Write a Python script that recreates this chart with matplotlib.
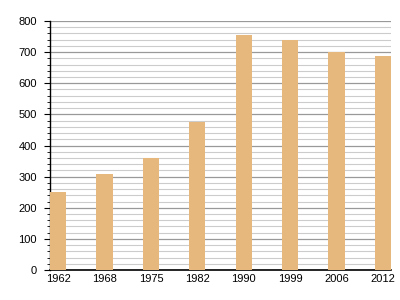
import matplotlib
matplotlib.use("Agg")
import matplotlib.pyplot as plt
from matplotlib.ticker import MultipleLocator

years = ["1962", "1968", "1975", "1982", "1990", "1999", "2006", "2012"]
population = [251, 309, 359, 476, 755, 740, 699, 688]

plt.rcParams['font.family'] = ['Liberation Sans', 'DejaVu Sans']

fig = plt.figure(figsize=(4, 3), dpi=100)
ax = fig.add_axes([0.125, 0.1, 0.8525, 0.83])

w = 0.35
x = list(range(len(years)))
ax.bar(x, population, width=w, color='#E6B87D', zorder=3)
ax.set_xticks(x)
ax.set_xticklabels(years)
ax.set_xlim(-w / 2, len(years) - 1 + w / 2)
ax.set_ylim(0, 800)
ax.yaxis.set_major_locator(MultipleLocator(100))
ax.yaxis.set_minor_locator(MultipleLocator(20))
ax.grid(axis='y', which='major', color='#999999', linewidth=0.9, zorder=0)
ax.grid(axis='y', which='minor', color='#cccccc', linewidth=0.8, zorder=0)
ax.grid(axis='x', visible=False)
for s in ['top', 'right']:
    ax.spines[s].set_visible(False)
ax.spines['left'].set_linewidth(1.0)
ax.spines['bottom'].set_linewidth(1.2)
ax.tick_params(axis='y', which='major', length=4.5, width=0.8, labelsize=8, pad=5)
ax.tick_params(axis='y', which='minor', length=2.2, width=0.6)
ax.tick_params(axis='x', length=0, labelsize=8, pad=3)

fig.savefig('out.png', dpi=100)
